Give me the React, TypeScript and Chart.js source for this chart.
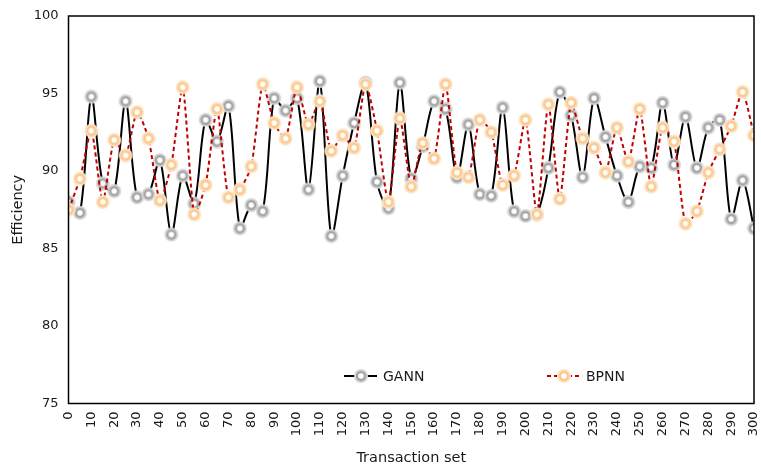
import React, { useEffect, useRef } from "react";
import { Chart, registerables } from "chart.js";

Chart.register(...registerables);

const transactionSet = [
  0, 5, 10, 15, 20, 25, 30, 35, 40, 45, 50, 55, 60, 65, 70, 75, 80, 85, 90, 95,
  100, 105, 110, 115, 120, 125, 130, 135, 140, 145, 150, 155, 160, 165, 170, 175,
  180, 185, 190, 195, 200, 205, 210, 215, 220, 225, 230, 235, 240, 245, 250, 255,
  260, 265, 270, 275, 280, 285, 290, 295, 300,
];

const gannEfficiency = [
  88.0, 87.3, 94.8, 89.2, 88.7, 94.5, 88.3, 88.5, 90.7, 85.9, 89.7, 87.9, 93.3,
  91.9, 94.2, 86.3, 87.8, 87.4, 94.7, 93.9, 94.7, 88.8, 95.8, 85.8, 89.7, 93.1,
  95.7, 89.3, 87.6, 95.7, 89.5, 91.6, 94.5, 94.0, 89.6, 93.0, 88.5, 88.4, 94.1,
  87.4, 87.1, 87.2, 90.2, 95.1, 93.6, 89.6, 94.7, 92.2, 89.7, 88.0, 90.3, 90.2,
  94.4, 90.4, 93.5, 90.2, 92.8, 93.3, 86.9, 89.4, 86.3,
];

const bpnnEfficiency = [
  87.5, 89.5, 92.6, 88.0, 92.0, 91.0, 93.8, 92.1, 88.1, 90.4, 95.4, 87.2, 89.1,
  94.0, 88.3, 88.8, 90.3, 95.6, 93.1, 92.1, 95.4, 93.0, 94.5, 91.3, 92.3, 91.5,
  95.6, 92.6, 88.0, 93.4, 89.0, 91.8, 90.8, 95.6, 89.9, 89.6, 93.3, 92.5, 89.1,
  89.7, 93.3, 87.2, 94.3, 88.2, 94.4, 92.1, 91.5, 89.9, 92.8, 90.6, 94.0, 89.0,
  92.8, 91.9, 86.6, 87.4, 89.9, 91.4, 92.9, 95.1, 92.3,
];

const seriesNames = ["GANN", "BPNN"];
const yTickMin = 75;
const yTickMax = 100;
const yTickStep = 5;
const xTickMin = 0;
const xTickMax = 300;
const xTickStep = 10;

const FONT = "'DejaVu Sans', Verdana, sans-serif";

function makeMarker(halo: string, ring: string): HTMLCanvasElement {
  const c = document.createElement("canvas");
  c.width = 16;
  c.height = 16;
  const g = c.getContext("2d")!;
  g.fillStyle = halo;
  g.beginPath();
  g.arc(8, 8, 7, 0, Math.PI * 2);
  g.fill();
  g.fillStyle = ring;
  g.beginPath();
  g.arc(8, 8, 5.2, 0, Math.PI * 2);
  g.fill();
  g.fillStyle = "#ffffff";
  g.beginPath();
  g.arc(8, 8, 2.7, 0, Math.PI * 2);
  g.fill();
  return c;
}

export default function App() {
  const ref = useRef<HTMLCanvasElement | null>(null);

  useEffect(() => {
    document.body.style.margin = "0";
    const canvas = ref.current;
    if (!canvas) return;

    const grayMarker = makeMarker("#d6d6d6", "#a6a6a6");
    const peachMarker = makeMarker("#fde3c4", "#fcc98f");

    const frame = {
      id: "frame",
      afterDraw(chart: any) {
        const { ctx, chartArea } = chart;
        ctx.save();
        ctx.strokeStyle = "#000";
        ctx.lineWidth = 1.5;
        ctx.strokeRect(
          chartArea.left,
          chartArea.top,
          chartArea.right - chartArea.left,
          chartArea.bottom - chartArea.top
        );
        ctx.restore();
      },
    };

    const legendInside = {
      id: "legendInside",
      afterDraw(chart: any) {
        const { ctx } = chart;
        const items = [
          { x: 344, color: "#000000", dash: [] as number[], marker: grayMarker, text: seriesNames[0] },
          { x: 547, color: "#c00000", dash: [4, 3], marker: peachMarker, text: seriesNames[1] },
        ];
        const y = 376;
        ctx.save();
        for (const it of items) {
          ctx.strokeStyle = it.color;
          ctx.lineWidth = 2;
          ctx.setLineDash(it.dash);
          ctx.beginPath();
          ctx.moveTo(it.x, y);
          ctx.lineTo(it.x + 33, y);
          ctx.stroke();
          ctx.setLineDash([]);
          ctx.drawImage(it.marker, it.x + 17 - 8, y - 8);
          ctx.fillStyle = "#1a1a1a";
          ctx.font = `14px ${FONT}`;
          ctx.textBaseline = "middle";
          ctx.textAlign = "left";
          ctx.fillText(it.text, it.x + 39, y + 1);
        }
        ctx.restore();
      },
    };

    const chart = new Chart(canvas, {
      type: "line",
      data: {
        datasets: [
          {
            label: seriesNames[0],
            data: transactionSet.map((x, i) => ({ x, y: gannEfficiency[i] })),
            borderColor: "#000000",
            borderWidth: 2,
            tension: 0.3,
            pointStyle: grayMarker as any,
            pointRadius: 5,
            order: 1,
          },
          {
            label: seriesNames[1],
            data: transactionSet.map((x, i) => ({ x, y: bpnnEfficiency[i] })),
            borderColor: "#c00000",
            borderWidth: 2,
            borderDash: [4, 3],
            tension: 0.2,
            pointStyle: peachMarker as any,
            pointRadius: 5,
            order: 0,
          },
        ],
      },
      options: {
        responsive: false,
        animation: false,
        layout: { padding: { top: 16, right: 6, left: 0, bottom: 0 } },
        plugins: {
          legend: { display: false },
          tooltip: { enabled: false },
        },
        scales: {
          x: {
            type: "linear",
            min: xTickMin,
            max: xTickMax,
            grid: { display: false, drawTicks: false },
            border: { display: false },
            ticks: {
              stepSize: xTickStep,
              minRotation: 90,
              maxRotation: 90,
              autoSkip: false,
              padding: 8,
              color: "#1a1a1a",
              font: { family: FONT, size: 13 },
            },
            title: {
              display: true,
              text: "Transaction set",
              color: "#1a1a1a",
              font: { family: FONT, size: 14.5 },
              padding: { top: 0, bottom: -1 },
            },
            afterFit(s: any) {
              s.height = 62.5;
              s.paddingLeft = 0;
              s.paddingRight = 0;
            },
          },
          y: {
            type: "linear",
            min: yTickMin,
            max: yTickMax,
            grid: { display: false, drawTicks: false },
            border: { display: false },
            ticks: {
              stepSize: yTickStep,
              padding: 10,
              color: "#1a1a1a",
              font: { family: FONT, size: 13 },
            },
            title: {
              display: true,
              text: "Efficiency",
              color: "#1a1a1a",
              font: { family: FONT, size: 14.5 },
              padding: { top: 10, bottom: 0 },
            },
            afterFit(s: any) {
              s.width = 68.5;
              s.paddingTop = 0;
              s.paddingBottom = 0;
            },
          },
        },
      },
      plugins: [frame, legendInside],
    });

    return () => chart.destroy();
  }, []);

  return (
    <div style={{ width: 761, height: 466 }}>
      <canvas ref={ref} width={761} height={466} style={{ display: "block" }} />
    </div>
  );
}
